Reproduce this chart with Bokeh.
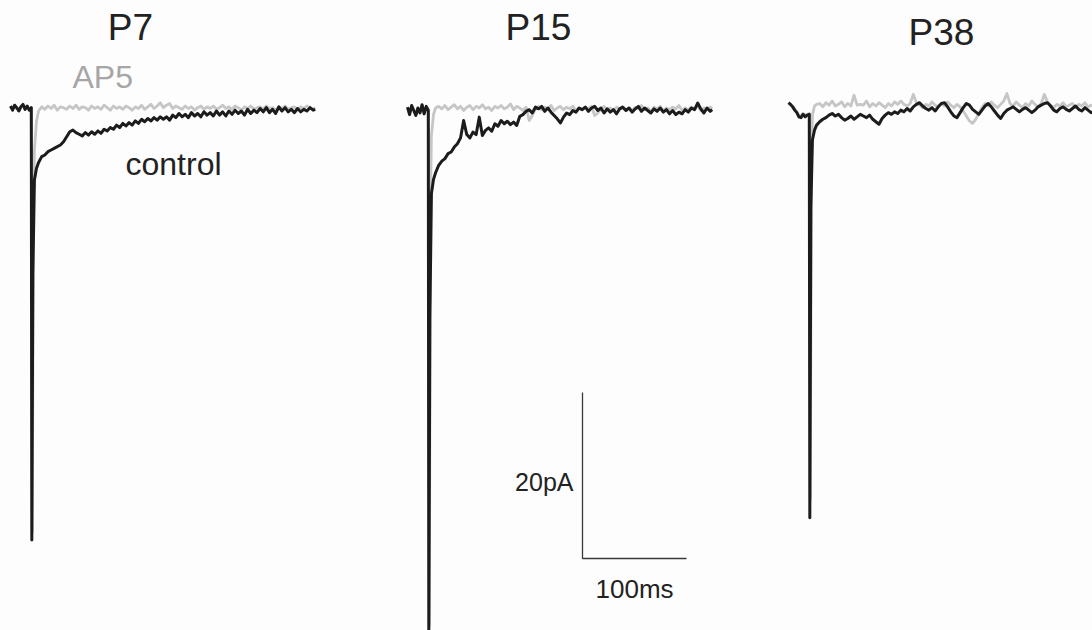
from bokeh.plotting import figure
from bokeh.models import Range1d
from bokeh.core.properties import value
from bokeh.embed import file_html
from bokeh.resources import INLINE

# ---------------- data ----------------
panels = ["P7", "P15", "P38"]
scale_bar = {"pA": 20, "ms": 100}

# sample times (ms from start of each sweep)
pre_t = [0, 2, 4, 6, 8, 10, 12, 14, 16, 18, 20]
spike_t_control = [20.5, 21.5, 23, 25, 27]
spike_t_ap5 = [21.0, 22.0, 23, 25, 27]
decay_t = list(range(30, 292, 3))
end_t = [293]

# currents (pA, relative to baseline)
p7_control = [
    0.3, -0.2, 0.4, 0.1, -0.3, 0.2, 0.5, -0.1, 0.3, -0.2, 0.1,
    -52.0, -20.0, -8.6, -7.2, -6.5,
    -5.8, -5.6, -5.2, -5.0, -4.8, -4.6, -4.4, -4.0, -3.4, -2.8,
    -2.6, -2.9, -3.1, -3.3, -2.9, -3.2, -2.8, -3.1, -2.7, -3.0,
    -2.5, -2.7, -2.3, -2.5, -2.0, -2.3, -1.8, -2.1, -1.7, -2.0,
    -1.5, -1.8, -1.3, -1.6, -1.2, -1.5, -1.1, -1.4, -1.0, -1.3,
    -1.0, -1.4, -0.8, -1.1, -0.6, -1.0, -0.7, -1.1, -0.5, -0.9,
    -0.6, -1.0, -0.4, -0.8, -0.5, -0.9, -0.3, -0.8, -0.4, -0.9,
    -0.3, -0.7, -0.2, -0.6, -0.3, -0.8, -0.1, -0.6, -0.2, -0.5,
    0.0, -0.4, 0.1, -0.5, -0.1, -0.6, 0.2, -0.3, 0.1, -0.4,
    -0.1, -0.5, 0.0, -0.4, -0.1, -0.3, 0.1, -0.2,
    -0.1,
]
p7_ap5 = [
    0.2, -0.1, 0.3, 0.0, -0.2, 0.3, 0.4, 0.0, 0.2, -0.1, 0.1,
    -51.0, -12.0, -5.0, -1.5, -0.3,
    0.2, -0.1, 0.3, 0.0, 0.4, -0.2, 0.2, 0.1, -0.1, 0.3,
    0.0, 0.4, -0.1, 0.2, 0.1, -0.2, 0.3, 0.0, 0.2, -0.1,
    0.4, 0.1, -0.2, 0.3, 0.0, 0.2, -0.1, 0.3, 0.1, -0.2,
    0.2, 0.0, 0.4, -0.1, 0.2, 0.5, 0.0, 0.3, 0.7, 0.1,
    0.4, 0.6, 0.0, 0.3, 0.1, -0.1, 0.3, 0.0, 0.2, -0.2,
    0.1, 0.3, -0.1, 0.2, 0.0, 0.3, -0.1, 0.1, 0.4, 0.0,
    0.2, -0.1, 0.3, 0.1, -0.2, 0.2, 0.0, 0.3, -0.1, 0.1,
    0.2, -0.1, 0.3, 0.0, 0.1, -0.2, 0.2, 0.0, 0.3, -0.1,
    0.1, 0.2, -0.1, 0.2, 0.0, 0.3, 0.1, -0.1,
    0.1,
]
p15_control = [
    0.4, -0.5, 0.6, 0.0, -0.6, 0.3, -0.3, 0.7, -0.4, 0.5, 0.0,
    -63.5, -25.0, -10.0, -8.3, -7.5,
    -6.6, -6.1, -5.8, -5.2, -5.0, -4.4, -4.0, -3.3, -1.2, -2.9,
    -3.3, -2.6, -2.9, -0.8, -3.0, -2.4, -2.1, -2.5, -1.6, -1.9,
    -1.2, -1.6, -1.3, -1.7, -1.4, -1.8, -0.7, -0.5, -0.1, 0.1,
    -0.3, 0.4, 0.2, 0.5, -0.1, 0.3, -0.2, -0.6, -1.0, -1.5,
    -0.8, -0.3, -0.5, 0.0, -0.2, 0.3, 0.1, 0.4, -0.1, 0.3,
    0.5, 0.0, 0.3, -0.3, 0.2, -0.2, 0.1, -0.4, 0.2, 0.4,
    0.0, 0.3, -0.2, 0.2, 0.5, -0.1, 0.3, 0.0, -0.3, 0.2,
    -0.1, 0.3, -0.2, 0.1, -0.4, 0.0, -0.5, -0.2, -0.4, 0.1,
    -0.2, 0.3, 0.1, 0.9, 0.2, -0.3, 0.3, -0.1,
    0.1,
]
p15_ap5 = [
    0.3, -0.4, 0.5, 0.1, -0.5, 0.2, -0.2, 0.6, -0.3, 0.4, 0.1,
    -62.0, -12.0, -3.0, -0.5, 0.3,
    0.5, 0.2, 0.6, 0.1, 0.4, 0.7, 0.2, 0.5, 0.0, 0.4,
    0.6, 0.1, 0.5, 0.3, 0.7, 0.2, 0.4, 0.0, 0.5, 0.3,
    0.6, 0.2, 0.4, 0.8, 0.1, 0.5, 0.3, 0.0, 0.4, -1.2,
    -0.6, 0.2, 0.5, 0.1, 0.4, 0.2, 0.6, 0.0, 0.3, 0.5,
    0.1, 0.4, 0.2, 0.5, 0.0, 0.3, 0.1, 0.4, 0.2, 0.5,
    -0.6, -0.3, 0.2, 0.5, 0.1, 0.3, 0.0, 0.4, 0.2, 0.5,
    0.1, 0.3, 0.0, 0.4, 0.2, 0.6, 0.1, 0.3, -0.1, 0.4,
    0.2, 0.5, 0.0, 0.3, 0.1, 0.4, 0.2, 0.6, 0.0, 0.3,
    0.1, 0.4, 0.2, 0.5, 0.0, 0.3, 0.1, 0.4,
    0.2,
]
p38_control = [
    0.7, 0.5, 0.2, -0.2, -0.5, -1.0, -1.1, -0.7, -1.0, -0.8, -0.7,
    -49.3, -12.0, -3.8, -2.6, -2.0,
    -1.6, -1.3, -1.1, -0.8, -0.6, -0.9, -0.7, -1.1, -1.4, -1.2,
    -0.9, -1.3, -1.0, -0.7, -0.9, -1.1, -0.8, -1.3, -1.6, -1.9,
    -1.2, -0.8, -0.5, -0.7, -0.4, -0.6, -0.2, -0.4, 0.0, -0.3,
    0.2, 0.5, 0.7, 0.3, 0.0, -0.2, 0.1, -0.3, 0.2, 0.6,
    0.7, 0.2, -0.4, -0.9, -1.1, -0.5, 0.1, 0.6, 0.4, -0.1,
    -0.4, -0.7, -0.2, 0.3, 0.6, 0.2, -0.3, -0.8, -1.2, -0.6,
    -0.2, 0.0, 0.2, -0.1, -0.4, -0.1, 0.1, -0.2, -0.5, -0.2,
    0.2, 0.4, 0.6, 0.7, 0.3, -0.2, -0.4, 0.0, 0.2, -0.1,
    -0.3, 0.0, 0.3, -0.1, -0.3, 0.1, -0.2, -0.5,
    -0.4,
]
p38_ap5 = [
    0.6, 0.4, 0.3, -0.1, -0.4, -0.8, -0.9, -0.6, -0.8, -0.7, -0.6,
    -47.0, -8.0, -0.8, 0.3, 0.5,
    0.6, 0.2, 0.7, 0.4, 0.9, 0.3, 0.5, 0.8, 0.2, 0.6,
    0.3, 1.6, 0.4, 0.5, 0.4, 0.9, 0.2, 0.6, 0.3, 0.7,
    0.4, 0.1, 0.6, 0.3, 0.8, 0.5, 0.9, 0.5, 0.3, 0.6,
    1.7, 0.7, 0.4, 0.1, 0.5, 0.3, 0.8, 0.4, 0.2, 0.6,
    0.3, 0.8, 0.4, 0.1, 0.5, 0.2, -0.3, -0.9, -1.5, -1.8,
    -1.3, -0.6, 0.1, 0.6, 0.3, 0.8, 0.4, 0.1, 0.5, 0.9,
    1.8, 0.6, 0.3, 0.8, 0.4, 0.1, 0.6, 0.3, 0.9, 0.5,
    0.2, 0.6, 1.7, 0.8, 0.4, 0.1, 0.5, 0.3, 0.7, 0.2,
    0.4, 0.6, 0.1, 0.5, 0.3, 0.7, 0.2, 0.4,
    0.3,
]

# ---------------- layout (pixel geometry) ----------------
W, H = 1092, 630
PX_PER_MS = 1.04
PX_PER_PA = 8.3


def X(px):
    return px / PX_PER_MS


def Y(py):
    return -py / PX_PER_PA


p = figure(width=W, height=H, output_backend="svg", toolbar_location=None,
           x_range=Range1d(0, W / PX_PER_MS), y_range=Range1d(-H / PX_PER_PA, 0),
           x_axis_type=None, y_axis_type=None, min_border=0)
p.outline_line_color = None
p.grid.visible = False
p.background_fill_color = "#fdfdfd"
p.border_fill_color = "#fdfdfd"

t_control = pre_t + spike_t_control + decay_t + end_t
t_ap5 = pre_t + spike_t_ap5 + decay_t + end_t

# sweep origin (left px, baseline px) per panel
origins = [(10, 108), (407, 110), (788, 108)]
controls = [p7_control, p15_control, p38_control]
ap5s = [p7_ap5, p15_ap5, p38_ap5]

for (ox, oy), ap in zip(origins, ap5s):
    p.line([X(ox) + t for t in t_ap5], [Y(oy) + v for v in ap],
           line_color="#c6c6c6", line_width=2.8, line_join="round")
for (ox, oy), ct in zip(origins, controls):
    p.line([X(ox) + t for t in t_control], [Y(oy) + v for v in ct],
           line_color="#1c1c1c", line_width=3.0, line_join="round")

# scale bar
sb_x, sb_y = X(582), Y(558)
p.line([sb_x, sb_x, sb_x + scale_bar["ms"]],
       [sb_y + scale_bar["pA"], sb_y, sb_y],
       line_color="#3a3a3a", line_width=1.3)

FONT = value("Liberation Sans")


def label(txt, px, py, size, align, color):
    # py is the wanted baseline in pixels; compensate renderer offset
    p.text(x=[X(px)], y=[Y(py - 0.35 * size)], text=[txt], text_font=FONT,
           text_font_size="%dpx" % size, text_align=align,
           text_baseline="alphabetic", text_color=color)


for name, (cx, by) in zip(panels, [(130, 40), (538, 40), (941, 45)]):
    label(name, cx, by, 37, "center", "#222222")

label("AP5", 72, 88, 32, "left", "#a6a6a6")
label("control", 125, 175, 32, "left", "#222222")
label("%dpA" % scale_bar["pA"], 573, 490, 25, "right", "#222222")
label("%dms" % scale_bar["ms"], 595, 598, 26, "left", "#222222")

open("out.html", "w").write(file_html(p, INLINE))
